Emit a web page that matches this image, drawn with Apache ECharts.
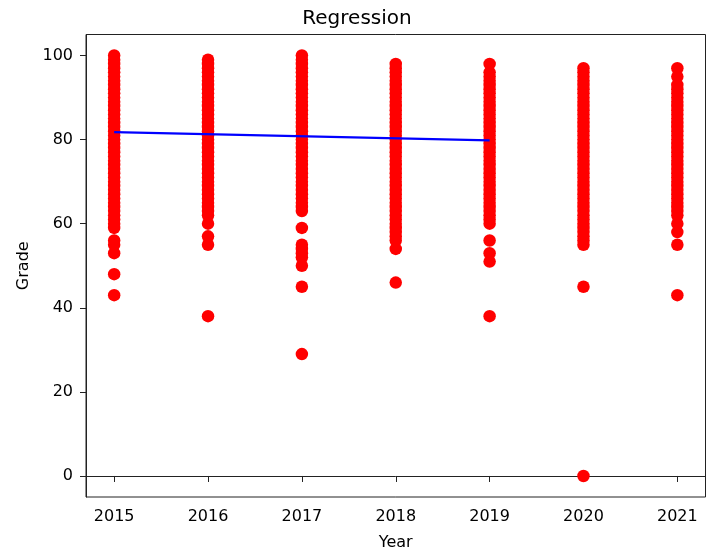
<!DOCTYPE html>
<html>
<head>
<meta charset="utf-8">
<title>Regression</title>
<script src="https://cdn.jsdelivr.net/npm/echarts@6/dist/echarts.min.js"></script>
<style>
  html, body { margin: 0; padding: 0; background: #fff; }
  #chart { width: 714px; height: 550px; }
</style>
</head>
<body>
<div id="chart"></div>
<script>
// Grades recorded per year (one dot per distinct grade)
const years = [2015, 2016, 2017, 2018, 2019, 2020, 2021];

const grades2015 = [100, 99, 98, 97, 96, 95, 94, 93, 92, 91, 90, 89, 88, 87, 86, 85, 84, 83, 82, 81, 80,
  79, 78, 77, 76, 75, 74, 73, 72, 71, 70, 69, 68, 67, 66, 65, 64, 63, 62, 61, 60, 59, 56, 55, 53, 48, 43];
const grades2016 = [99, 98, 97, 96, 95, 94, 93, 92, 91, 90, 89, 88, 87, 86, 85, 84, 83, 82, 81, 80,
  79, 78, 77, 76, 75, 74, 73, 72, 71, 70, 69, 68, 67, 66, 65, 64, 63, 62, 60, 57, 55, 38];
const grades2017 = [100, 99, 98, 97, 96, 95, 94, 93, 92, 91, 90, 89, 88, 87, 86, 85, 84, 83, 82, 81, 80,
  79, 78, 77, 76, 75, 74, 73, 72, 71, 70, 69, 68, 67, 66, 65, 64, 63, 59, 55, 54, 53, 52, 50, 45, 29];
const grades2018 = [98, 97, 96, 95, 94, 93, 92, 91, 90, 89, 88, 87, 86, 85, 84, 83, 82, 81, 80,
  79, 78, 77, 76, 75, 74, 73, 72, 71, 70, 69, 68, 67, 66, 65, 64, 63, 62, 61, 60, 59, 58, 57, 56, 54, 46];
const grades2019 = [98, 96, 95, 94, 93, 92, 91, 90, 89, 88, 87, 86, 85, 84, 83, 82, 81, 80,
  79, 78, 77, 76, 75, 74, 73, 72, 71, 70, 69, 68, 67, 66, 65, 64, 63, 62, 61, 60, 56, 53, 51, 38];
const grades2020 = [97, 96, 95, 94, 93, 92, 91, 90, 89, 88, 87, 86, 85, 84, 83, 82, 81, 80,
  79, 78, 77, 76, 75, 74, 73, 72, 71, 70, 69, 68, 67, 66, 65, 64, 63, 62, 61, 60, 59, 58, 57, 56, 55, 45, 0];
const grades2021 = [97, 95, 93, 92, 91, 90, 89, 88, 87, 86, 85, 84, 83, 82, 81, 80,
  79, 78, 77, 76, 75, 74, 73, 72, 71, 70, 69, 68, 67, 66, 65, 64, 63, 62, 60, 58, 55, 43];

// Fitted regression line endpoints
const fitYears = [2015, 2019];
const fitGrades = [81.8, 79.8];

const yTicks = [0, 20, 40, 60, 80, 100];

const gradesByYear = [grades2015, grades2016, grades2017, grades2018, grades2019, grades2020, grades2021];
const scatterData = [];
gradesByYear.forEach((list, i) => {
  list.forEach(g => scatterData.push([years[i], g]));
});
const lineData = fitYears.map((y, i) => [y, fitGrades[i]]);

const FONT = 'DejaVu Sans';
const chart = echarts.init(document.getElementById('chart'), null, { renderer: 'canvas' });

chart.setOption({
  animation: false,
  backgroundColor: '#ffffff',
  title: {
    text: 'Regression',
    left: 'center',
    top: 4,
    textStyle: { fontFamily: FONT, fontSize: 20, fontWeight: 'normal', color: '#000' }
  },
  grid: {
    left: 86, right: 8.5, top: 34.5, bottom: 53,
    show: true, borderColor: '#222', borderWidth: 1,
    containLabel: false,
    outerBoundsMode: 'none'
  },
  xAxis: {
    type: 'value',
    min: 2014.7,
    max: 2021.3,
    name: 'Year',
    nameLocation: 'middle',
    nameGap: 38,
    nameTextStyle: { fontFamily: FONT, fontSize: 16, color: '#000' },
    splitLine: { show: false },
    axisLine: { show: true, lineStyle: { color: '#222', width: 1 } },
    axisTick: { show: true, length: 6, customValues: years, lineStyle: { color: '#222' } },
    axisLabel: {
      customValues: years,
      margin: 12,
      fontFamily: FONT, fontSize: 16, color: '#000',
      formatter: v => String(Math.round(v))
    }
  },
  yAxis: {
    type: 'value',
    min: -5,
    max: 105,
    name: 'Grade',
    nameLocation: 'middle',
    nameGap: 51,
    nameTextStyle: { fontFamily: FONT, fontSize: 16, color: '#000' },
    splitLine: { show: false },
    axisLine: { show: true, lineStyle: { color: '#222', width: 1 } },
    axisTick: { show: true, length: 6, customValues: yTicks, lineStyle: { color: '#222' } },
    axisLabel: {
      customValues: yTicks,
      margin: 13,
      fontFamily: FONT, fontSize: 16, color: '#000',
      formatter: v => String(Math.round(v))
    }
  },
  series: [
    {
      type: 'scatter',
      data: scatterData,
      symbol: 'circle',
      symbolSize: 12.5,
      itemStyle: { color: '#ff0000', opacity: 1 },
      z: 2
    },
    {
      type: 'line',
      data: lineData,
      showSymbol: false,
      symbol: 'none',
      lineStyle: { color: '#0000ff', width: 2.2 },
      z: 3
    }
  ]
});
</script>
</body>
</html>
